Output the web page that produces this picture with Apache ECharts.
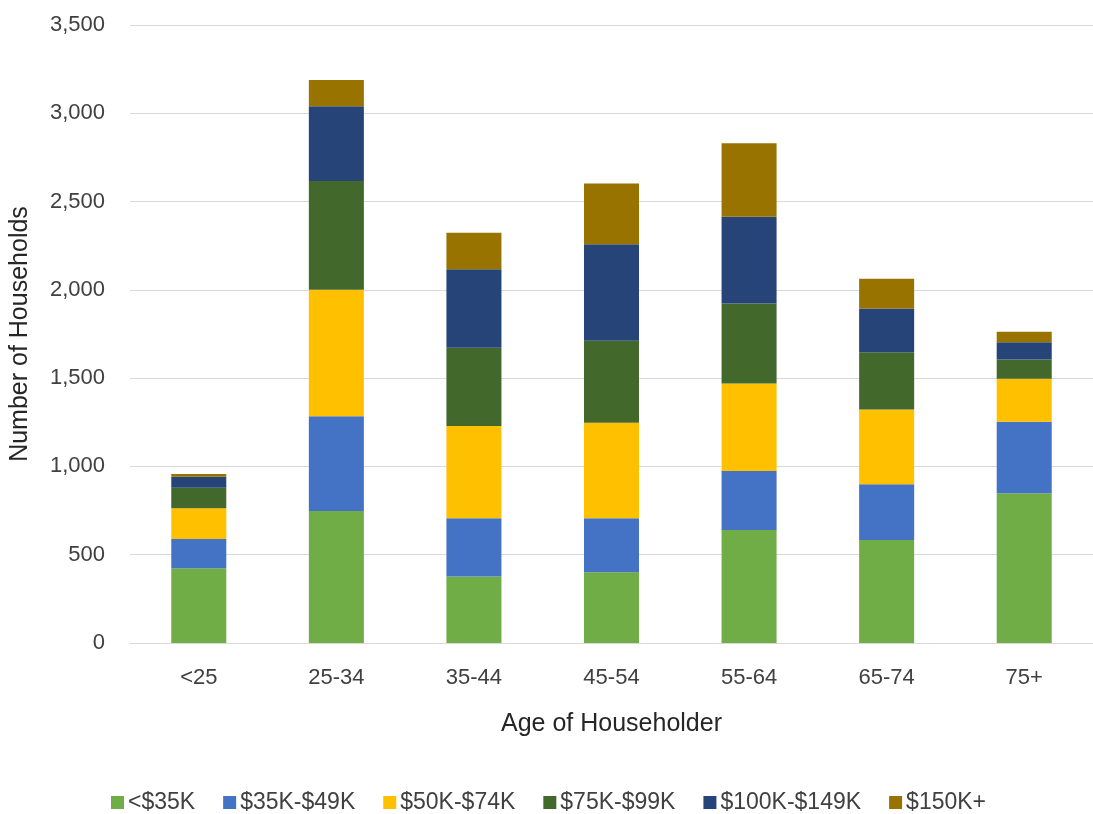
<!DOCTYPE html>
<html>
<head>
<meta charset="utf-8">
<script src="https://cdn.jsdelivr.net/npm/echarts@6/dist/echarts.min.js"></script>
<style>
html,body{margin:0;padding:0;background:#fff;}
#chart{width:1093px;height:814px;}
</style>
</head>
<body>
<div id="chart"></div>
<script>
const categories = ['<25', '25-34', '35-44', '45-54', '55-64', '65-74', '75+'];
const seriesNames = ['<$35K', '$35K-$49K', '$50K-$74K', '$75K-$99K', '$100K-$149K', '$150K+'];
const under35K   = [423, 747, 376, 400, 640, 583, 848];
const k35to49    = [166, 537, 330, 306, 334, 316, 405];
const k50to74    = [174, 716, 523, 542, 496, 424, 244];
const k75to99    = [116, 617, 443, 464, 453, 323, 109];
const k100to149  = [63, 423, 444, 546, 491, 249, 97];
const k150plus   = [15, 148, 207, 345, 416, 168, 60];
const yTicks = [0, 500, 1000, 1500, 2000, 2500, 3000, 3500];

const seriesData = [under35K, k35to49, k50to74, k75to99, k100to149, k150plus];
const colors = ['#70AD47', '#4472C4', '#FFC000', '#43682B', '#264478', '#997300'];
const FONT = '"Liberation Sans Narrow", "Arial Narrow", "Liberation Sans", Arial, sans-serif';

const chart = echarts.init(document.getElementById('chart'), null, {renderer: 'canvas'});
chart.setOption({
  animation: false,
  backgroundColor: '#ffffff',
  color: colors,
  textStyle: {fontFamily: FONT},
  grid: {left: 130, right: -8, top: 25, bottom: 171, containLabel: false},
  legend: {
    data: seriesNames,
    top: 786,
    left: 106,
    itemWidth: 13,
    itemHeight: 13,
    itemGap: 28,
    icon: 'rect',
    textStyle: {fontFamily: FONT, fontSize: 23, color: '#404040', padding: [0, 0, 0, -1]}
  },
  xAxis: {
    type: 'category',
    data: categories,
    name: 'Age of Householder',
    nameLocation: 'middle',
    nameGap: 69,
    nameTextStyle: {fontFamily: FONT, fontSize: 25, color: '#262626'},
    axisLine: {show: true, lineStyle: {color: '#d9d9d9', width: 1}},
    axisTick: {show: false},
    axisLabel: {fontFamily: FONT, fontSize: 22, color: '#404040', margin: 24}
  },
  yAxis: {
    type: 'value',
    min: yTicks[0],
    max: yTicks[yTicks.length - 1],
    interval: 500,
    name: 'Number of Households',
    nameLocation: 'middle',
    nameGap: 97,
    nameRotate: 90,
    nameTextStyle: {fontFamily: FONT, fontSize: 25, color: '#262626'},
    axisLine: {show: false},
    axisTick: {show: false},
    splitLine: {lineStyle: {color: '#d9d9d9', width: 1}},
    axisLabel: {
      fontFamily: FONT, fontSize: 22, color: '#404040', margin: 25,
      formatter: v => v.toLocaleString('en-US')
    }
  },
  series: seriesNames.map((name, i) => ({
    name: name,
    type: 'bar',
    stack: 'total',
    barWidth: '40%',
    data: seriesData[i],
    itemStyle: {color: colors[i]}
  }))
});
</script>
</body>
</html>
